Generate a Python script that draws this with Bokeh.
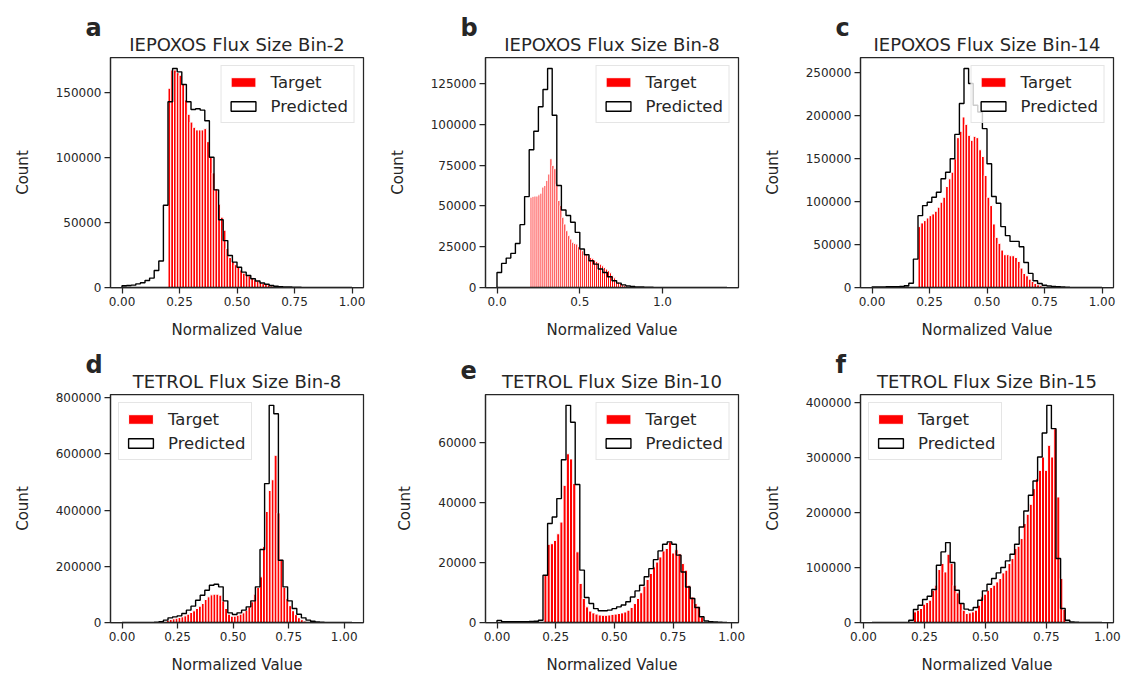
import numpy as np
from bokeh.plotting import figure
from bokeh.layouts import column, row
from bokeh.models import (Range1d, FixedTicker, NumeralTickFormatter, Legend,
                          LegendItem, Title)
from bokeh.embed import file_html
from bokeh.resources import INLINE

# ---------------- data ----------------
titles = ["IEPOXOS Flux Size Bin-2", "IEPOXOS Flux Size Bin-8", "IEPOXOS Flux Size Bin-14",
          "TETROL Flux Size Bin-8", "TETROL Flux Size Bin-10", "TETROL Flux Size Bin-15"]
letters = ["a", "b", "c", "d", "e", "f"]
x_label = "Normalized Value"
y_label = "Count"
series_names = ["Target", "Predicted"]

# histogram value ranges (50 bins each)
target_ranges = [(0.2, 0.8), (0.2, 0.8), (0.2, 0.8), (0.2, 0.855), (0.2, 0.88), (0.205, 0.83)]
pred_ranges = [(0.0, 1.0), (0.0, 1.39), (0.0, 1.0), (0.0, 1.035), (0.0, 0.98), (0.035, 0.978)]

target_a = [153000, 167000, 167000, 165000, 163000, 156000, 144000, 133000, 127000, 123000,
            121000, 121000, 121000, 122000, 112000, 100000, 88000, 76000, 64000, 54000,
            44000, 30000, 23000, 20000, 17500, 15500, 13500, 11000, 10000, 9000,
            7500, 6000, 5000, 4000, 3000, 2400, 2000, 1200, 600, 300,
            150, 80, 50, 30, 20, 10, 10, 5, 5, 2]
pred_a = [1300, 1500, 1800, 2800, 3600, 5400, 7200, 13100, 20300, 63100,
          142600, 168200, 165600, 155900, 142600, 136700, 137200, 136200, 128000, 100000,
          75000, 52000, 36000, 24600, 19500, 15600, 11800, 9200, 6700, 5000,
          3500, 2500, 1500, 1000, 700, 500, 350, 250, 180, 120,
          90, 60, 40, 30, 20, 15, 10, 5, 5, 2]

target_b = [55300, 55800, 56000, 56000, 56800, 57800, 61500, 62500, 65600, 69500,
            78900, 74800, 72800, 63500, 53300, 50200, 43000, 38900, 34800, 31800,
            29700, 27700, 27000, 26600, 25000, 23600, 22500, 21500, 20500, 19500,
            18400, 17900, 16800, 16000, 15200, 14300, 13300, 12300, 11300, 10300,
            9000, 7200, 5900, 4500, 3400, 2500, 1800, 1400, 1000, 600]
pred_b = [9200, 14750, 18000, 20900, 27000, 38500, 55700, 84400, 95700, 110700,
          121300, 134200, 105500, 62500, 47500, 44100, 40000, 33800, 23600, 20100,
          16400, 14300, 11300, 9200, 6600, 4100, 2700, 1600, 1000, 600,
          400, 300, 200, 150, 100, 80, 60, 50, 40, 30,
          20, 15, 10, 10, 5, 5, 5, 3, 2, 2]

target_c = [70900, 75200, 77900, 81000, 83700, 85700, 88800, 93500, 99300, 105100,
            117600, 126600, 134300, 149900, 174500, 181900, 198600, 190000, 177200, 171400,
            176000, 174500, 160400, 152600, 130500, 105100, 95400, 74000, 58400, 51400,
            43600, 38200, 38200, 37000, 37000, 35000, 30400, 22600, 16400, 13600,
            9700, 7000, 4700, 3100, 1900, 1200, 600, 300, 150, 100]
pred_c = [700, 700, 700, 800, 800, 900, 1200, 2000, 5000, 33100,
          83700, 95400, 99300, 105100, 111000, 126600, 134300, 149900, 178300, 214200,
          255100, 237500, 212200, 204400, 185000, 144100, 105900, 98100, 70900, 60400,
          53700, 53700, 47500, 29200, 16400, 7800, 4700, 2700, 1900, 1200,
          800, 500, 300, 200, 100, 60, 40, 20, 10, 5]

target_d = [8300, 10700, 13000, 15400, 17800, 20100, 23700, 29600, 35600, 41500,
            49800, 58100, 67600, 81800, 91300, 98400, 100700, 100700, 97200, 77000,
            49800, 29600, 22500, 22500, 26100, 29600, 34400, 43900, 55700, 73500,
            100700, 124400, 162400, 270000, 395000, 470000, 508000, 595000, 390000, 225000,
            125000, 85000, 60000, 42000, 28000, 17000, 10000, 5000, 2000, 800]
pred_d = [100, 100, 100, 150, 200, 300, 400, 800, 2500, 8300,
          16600, 20100, 23700, 32000, 43900, 58100, 79400, 97200, 115000, 132700,
          136300, 126800, 77000, 34400, 28400, 34400, 43900, 55700, 77000, 126800,
          259600, 494200, 772700, 743000, 221600, 126800, 77000, 49800, 29600, 16600,
          8300, 4700, 2400, 1200, 600, 300, 150, 80, 40, 20]

target_e = [15700, 26000, 26200, 27300, 29500, 33400, 45600, 56100, 54400, 46200,
            23500, 13000, 8000, 5200, 3800, 3200, 2800, 2500, 2400, 2400,
            2500, 2700, 2800, 3000, 3200, 3500, 4100, 5000, 6300, 8000,
            9900, 12100, 14300, 16300, 18500, 20100, 21800, 23800, 24600, 26800,
            23100, 24200, 22900, 19600, 17400, 12400, 8500, 6300, 5400, 1900]
pred_e = [700, 300, 250, 250, 250, 300, 300, 350, 400, 770,
          15700, 32900, 35100, 41200, 54100, 72200, 66600, 45900, 17400, 8300,
          6300, 4600, 3900, 3900, 4100, 4600, 5200, 5800, 6900, 8500,
          10500, 12400, 15200, 17900, 20900, 23800, 26000, 26800, 26000, 22400,
          16800, 11800, 8000, 5000, 1900, 550, 300, 150, 80, 40]

target_f = [19300, 22400, 25400, 33200, 36300, 40500, 58600, 67700, 96100, 107000,
            91800, 123900, 107000, 67700, 53800, 34400, 22400, 16300, 17500, 19300,
            22400, 31400, 46500, 51400, 58600, 63400, 67700, 73700, 79800, 90000,
            94900, 107000, 116000, 134100, 138400, 152300, 179500, 196400, 214500, 242900,
            261000, 276100, 300300, 276100, 321500, 300300, 351700, 227800, 79800, 23600]
pred_f = [50, 50, 50, 50, 80, 100, 150, 300, 4200, 23600,
          31400, 41700, 47700, 59800, 103900, 128100, 145000, 108800, 58600, 34400,
          24200, 22400, 27200, 40500, 57400, 69500, 79800, 90000, 99700, 111800,
          123900, 142000, 173400, 202400, 230800, 256800, 300300, 343800, 394000, 351700,
          116000, 25400, 4200, 1200, 400, 200, 100, 50, 30, 10]

targets = [target_a, target_b, target_c, target_d, target_e, target_f]
preds = [pred_a, pred_b, pred_c, pred_d, pred_e, pred_f]

x_ticks = [[0, 0.25, 0.5, 0.75, 1.0], [0, 0.5, 1.0], [0, 0.25, 0.5, 0.75, 1.0],
           [0, 0.25, 0.5, 0.75, 1.0], [0, 0.25, 0.5, 0.75, 1.0], [0, 0.25, 0.5, 0.75, 1.0]]
x_formats = ["0.00", "0.0", "0.00", "0.00", "0.00", "0.00"]
y_ticks = [[0, 50000, 100000, 150000],
           [0, 25000, 50000, 75000, 100000, 125000],
           [0, 50000, 100000, 150000, 200000, 250000],
           [0, 200000, 400000, 600000, 800000],
           [0, 20000, 40000, 60000],
           [0, 100000, 200000, 300000, 400000]]
legend_locs = ["top_right", "top_right", "top_right", "top_left", "top_right", "top_left"]

# ---------------- layout / style ----------------
INK = "#262626"
FONT = "DejaVu Sans"
fig_w = [383, 375, 364]
fig_h = [345, 331]
border_left = [110, 102, 102]
border_right = [20, 20, 9]
border_top = [57, 49]
border_bottom = [58, 54]


def make_panel(k):
    r, c = divmod(k, 3)
    t_lo, t_hi = target_ranges[k]
    p_lo, p_hi = pred_ranges[k]
    lo, hi = min(t_lo, p_lo), max(t_hi, p_hi)
    span = hi - lo
    ymax = max(max(targets[k]), max(preds[k])) * 1.05

    p = figure(width=fig_w[c], height=fig_h[r], output_backend="svg", toolbar_location=None,
               x_range=Range1d(lo - 0.05 * span, hi + 0.05 * span),
               y_range=Range1d(0, ymax),
               min_border_left=border_left[c], min_border_right=border_right[c],
               min_border_top=border_top[r], min_border_bottom=border_bottom[r])
    p.background_fill_color = "white"
    p.border_fill_color = "white"
    p.xgrid.visible = False
    p.ygrid.visible = False
    p.outline_line_color = INK
    p.outline_line_width = 1.25
    p.outline_line_alpha = 1.0

    # panel letter: the plot's own title sits outermost, pushed left of the frame
    p.title.text = letters[k]
    p.title.align = "left"
    p.title.offset = -25
    try:
        p.title.standoff = -26
    except Exception:
        p.title.standoff = 0
    p.title.text_font = FONT
    p.title.text_font_size = "24px"
    p.title.text_font_style = "bold"
    p.title.text_color = INK

    # panel title, closest to the frame
    main_title = Title(text=titles[k], align="center", standoff=6)
    main_title.text_font = FONT
    main_title.text_font_size = "18px"
    main_title.text_font_style = "normal"
    main_title.text_color = INK
    p.add_layout(main_title, "above")

    # axes
    p.xaxis.ticker = FixedTicker(ticks=x_ticks[k])
    p.xaxis.formatter = NumeralTickFormatter(format=x_formats[k])
    p.yaxis.ticker = FixedTicker(ticks=y_ticks[k])
    p.yaxis.formatter = NumeralTickFormatter(format="0")
    p.xaxis.axis_label = x_label
    p.yaxis.axis_label = y_label
    for ax in (p.xaxis[0], p.yaxis[0]):
        ax.major_tick_out = 6
        ax.major_tick_in = 0
        ax.minor_tick_out = 0
        ax.minor_tick_in = 0
        ax.axis_line_color = INK
        ax.axis_line_width = 1.25
        ax.major_tick_line_color = INK
        ax.major_tick_line_width = 1.25
        ax.major_label_text_font = FONT
        ax.major_label_text_font_size = "12px"
        ax.major_label_text_color = INK
        ax.major_label_standoff = 3
        ax.axis_label_text_font = FONT
        ax.axis_label_text_font_size = "15px"
        ax.axis_label_text_font_style = "normal"
        ax.axis_label_text_color = INK
    p.xaxis.axis_label_standoff = 12
    p.yaxis.axis_label_standoff = 21

    # target histogram bars
    t_edges = np.linspace(t_lo, t_hi, len(targets[k]) + 1)
    r_t = p.quad(left=t_edges[:-1], right=t_edges[1:], bottom=0, top=targets[k],
                 fill_color="#ff0000", line_color="white", line_width=1.0)

    # predicted histogram as an unfilled step outline
    p_edges = np.linspace(p_lo, p_hi, len(preds[k]) + 1)
    xs = np.repeat(p_edges, 2)
    ys = np.concatenate([[0], np.repeat(preds[k], 2), [0]])
    r_p = p.patch(xs, ys, fill_color="white", fill_alpha=0.0,
                  line_color="black", line_width=1.4)

    legend = Legend(items=[LegendItem(label=series_names[0], renderers=[r_t]),
                           LegendItem(label=series_names[1], renderers=[r_p])],
                    location=legend_locs[k])
    legend.margin = 8
    legend.padding = 6
    legend.spacing = 4
    legend.label_standoff = 12
    legend.glyph_width = 31
    legend.glyph_height = 12
    legend.label_height = 20
    legend.label_text_font = FONT
    legend.label_text_font_size = "16.5px"
    legend.label_text_color = INK
    legend.border_line_color = "#cccccc"
    legend.border_line_width = 1
    legend.background_fill_color = "white"
    legend.background_fill_alpha = 0.8
    p.add_layout(legend)
    return p


panels = [make_panel(k) for k in range(6)]
layout = column(row(*panels[:3], spacing=0), row(*panels[3:], spacing=0), spacing=0)

open("out.html", "w").write(file_html(layout, INLINE))
